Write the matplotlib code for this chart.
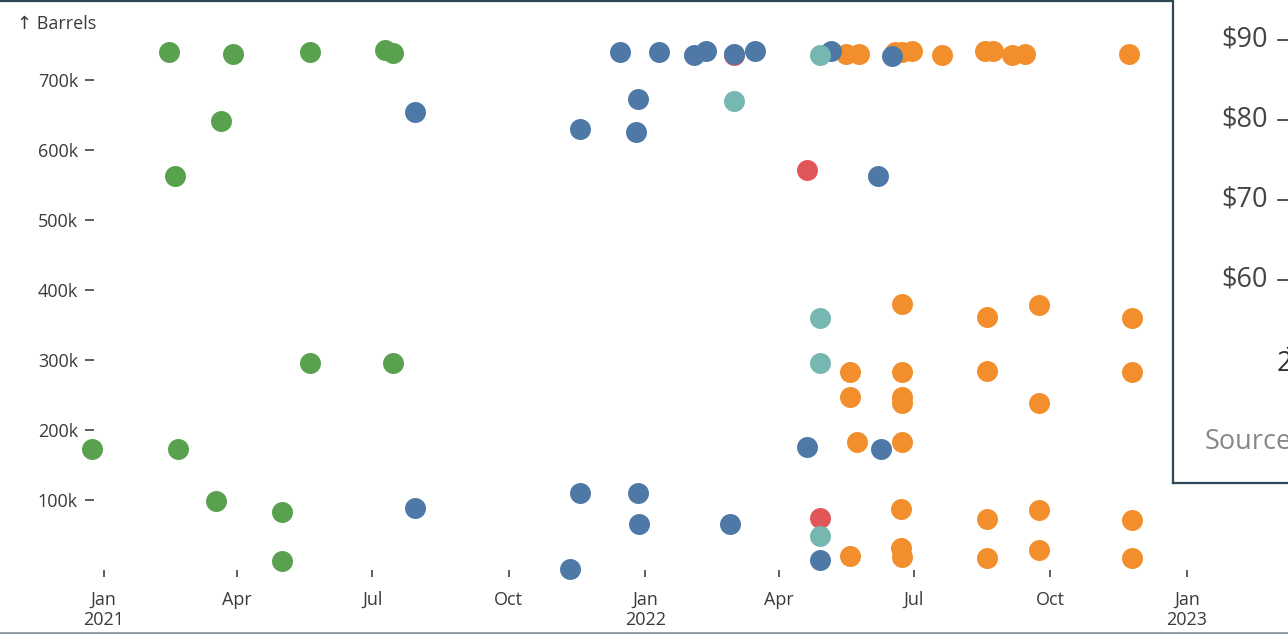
import numpy as np
import pandas as pd
import matplotlib
matplotlib.use("Agg")
import matplotlib.pyplot as plt
from matplotlib.lines import Line2D

plt.rcParams['font.family'] = ['Open Sans', 'DejaVu Sans']

# ---------------------------------------------------------
# data (barrels, thousands)
# ---------------------------------------------------------
green_dates = ["2020-12-24", "2021-02-14", "2021-02-18", "2021-02-20", "2021-03-18",
               "2021-03-21", "2021-03-29", "2021-05-01", "2021-05-01", "2021-05-20",
               "2021-05-20", "2021-07-10", "2021-07-15", "2021-07-15"]
green_vals = [173, 740, 563, 173, 99, 641, 737, 83, 13, 740, 296, 743, 739, 296]

red_dates = ["2022-03-02", "2022-04-20", "2022-04-29"]
red_vals = [736, 571, 74]

orange_dates = ["2022-05-16", "2022-05-25", "2022-06-18", "2022-06-23", "2022-06-30",
                "2022-07-20", "2022-08-18", "2022-08-23", "2022-09-05", "2022-09-14",
                "2022-11-23",
                "2022-06-23", "2022-08-19", "2022-09-23", "2022-11-25",
                "2022-05-19", "2022-06-23", "2022-08-19", "2022-11-25",
                "2022-05-19", "2022-06-23", "2022-06-23", "2022-09-23",
                "2022-05-24", "2022-06-23",
                "2022-06-22", "2022-08-19", "2022-09-23", "2022-11-25",
                "2022-05-19", "2022-06-22", "2022-06-23", "2022-08-19", "2022-09-23",
                "2022-11-25"]
orange_vals = [737, 737, 740, 740, 741, 736, 741, 741, 736, 737, 737,
               380, 361, 379, 360,
               283, 283, 284, 283,
               247, 247, 239, 239,
               183, 183,
               87, 73, 86, 71,
               20, 31, 19, 17, 29, 17]

blue_dates = ["2021-07-30", "2021-07-30", "2021-11-11", "2021-11-18", "2021-11-18",
              "2021-12-15", "2021-12-26", "2021-12-27", "2021-12-27", "2021-12-28",
              "2022-01-10", "2022-02-03", "2022-02-11", "2022-02-27", "2022-03-02",
              "2022-03-16", "2022-04-20", "2022-04-29", "2022-05-06", "2022-06-07",
              "2022-06-09", "2022-06-16"]
blue_vals = [654, 89, 1, 630, 110, 740, 626, 673, 110, 66,
             740, 736, 741, 66, 737, 741, 176, 14, 741, 563, 173, 734]

teal_dates = ["2022-03-02", "2022-04-29", "2022-04-29", "2022-04-29", "2022-04-29"]
teal_vals = [670, 736, 360, 296, 49]

series = [
    (green_dates, green_vals, "#59a14f"),
    (red_dates, red_vals, "#e15759"),
    (orange_dates, orange_vals, "#f28e2c"),
    (blue_dates, blue_vals, "#4e79a7"),
    (teal_dates, teal_vals, "#76b7b2"),
]

y_ticks = [100, 200, 300, 400, 500, 600, 700]
x_ticks = ["2021-01-01", "2021-04-01", "2021-07-01", "2021-10-01", "2022-01-01",
           "2022-04-01", "2022-07-01", "2022-10-01", "2023-01-01"]
x_labels = ["Jan\n2021", "Apr", "Jul", "Oct", "Jan\n2022", "Apr", "Jul", "Oct", "Jan\n2023"]

price_labels = ["$90", "$80", "$70", "$60"]

# ---------------------------------------------------------
# figure
# ---------------------------------------------------------
W, H = 1288, 634
fig = plt.figure(figsize=(W / 100, H / 100), dpi=100, facecolor="white")

left_px, right_px, top_px, bottom_px = 94, 1250, 45, 570
ax = fig.add_axes([left_px / W, 1 - bottom_px / H,
                   (right_px - left_px) / W, (bottom_px - top_px) / H])

for d, v, c in series:
    ax.scatter(pd.to_datetime(d), np.array(v) * 1000, s=228, color=c,
               linewidths=0, clip_on=False, zorder=3)

# scale: Jan 2021 sits at x=103.5px, 1.4842 px per day
start = pd.Timestamp("2021-01-01")
ppd = 1.4842
ax.set_xlim(start + pd.Timedelta(days=(left_px - 103.5) / ppd),
            start + pd.Timedelta(days=(right_px - 103.5) / ppd))
ax.set_ylim(0, (bottom_px - top_px) / 70 * 100000)

for s in ax.spines.values():
    s.set_visible(False)

ax.set_yticks([t * 1000 for t in y_ticks])
ax.set_yticklabels([f"{t}k" for t in y_ticks])
ax.set_xticks(pd.to_datetime(x_ticks))
ax.set_xticklabels(x_labels, linespacing=1.12)

ax.tick_params(axis="y", length=6.5, width=1.1, pad=5, colors="#333333",
               labelsize=13, labelcolor="#3a3a3a")
ax.tick_params(axis="x", length=5, width=1.1, pad=10, colors="#333333",
               labelsize=13, labelcolor="#3a3a3a")

fig.text(17 / W, 1 - 24 / H, "↑ Barrels", fontsize=13, color="#3a3a3a",
         ha="left", va="center")

# ---------------------------------------------------------
# frame lines of the screenshot
# ---------------------------------------------------------
fig.add_artist(Line2D([0, 1173 / W], [1 - 1 / H, 1 - 1 / H], color="#2e4756", lw=1.6))
fig.add_artist(Line2D([0, 1], [1.5 / H, 1.5 / H], color="#8d99a3", lw=2))

# overlapping second panel on the right
panel = plt.Rectangle((1173 / W, 1 - 483 / H), (W - 1173) / W, 483 / H,
                      transform=fig.transFigure, facecolor="white",
                      edgecolor="none", zorder=5)
fig.add_artist(panel)
fig.add_artist(Line2D([1173 / W, 1173 / W], [1, 1 - 483 / H], color="#2e4756",
                      lw=1.6, zorder=6))
fig.add_artist(Line2D([1173 / W, 1], [1 - 483 / H, 1 - 483 / H], color="#2e4756",
                      lw=1.6, zorder=6))

for i, lab in enumerate(price_labels):
    yy = 1 - (40 + 80 * i) / H
    fig.text(1268 / W, yy, lab, fontsize=19.5, color="#444444", ha="right",
             va="center", zorder=7)
    fig.add_artist(Line2D([1278 / W, 1], [yy, yy], color="#333333", lw=1.2, zorder=7))

fig.text(1308 / W, 1 - 350 / H, "Jan\n2021", fontsize=19.5, color="#333333",
         ha="center", va="center", linespacing=1.0, zorder=7)
fig.text(1205 / W, 1 - 442 / H, "Source:", fontsize=19.5, color="#888888",
         ha="left", va="center", zorder=7)

fig.savefig("out.png", dpi=100, facecolor="white")
